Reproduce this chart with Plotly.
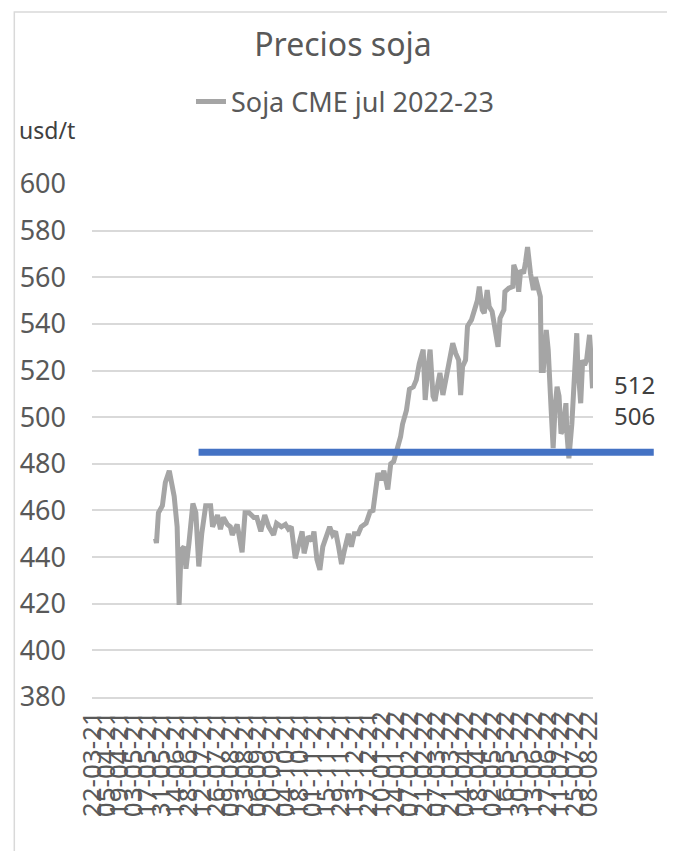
import plotly.graph_objects as go

dates = [
    "2021-05-25", "2021-05-26", "2021-05-28", "2021-06-01", "2021-06-04", "2021-06-08", "2021-06-13",
    "2021-06-16", "2021-06-18", "2021-06-20", "2021-06-23", "2021-06-25", "2021-06-28", "2021-07-02",
    "2021-07-05", "2021-07-08", "2021-07-11", "2021-07-15", "2021-07-20", "2021-07-22", "2021-07-27",
    "2021-07-30", "2021-08-02", "2021-08-06", "2021-08-09", "2021-08-11", "2021-08-16", "2021-08-21",
    "2021-08-24", "2021-08-28", "2021-09-02", "2021-09-05", "2021-09-09", "2021-09-13", "2021-09-17",
    "2021-09-22", "2021-09-25", "2021-09-30", "2021-10-04", "2021-10-07", "2021-10-10", "2021-10-14",
    "2021-10-17", "2021-10-21", "2021-10-23", "2021-10-27", "2021-10-31", "2021-11-02", "2021-11-05",
    "2021-11-08", "2021-11-11", "2021-11-15", "2021-11-18", "2021-11-21", "2021-11-24", "2021-11-27",
    "2021-11-30", "2021-12-03", "2021-12-07", "2021-12-10", "2021-12-13", "2021-12-17", "2021-12-20",
    "2021-12-25", "2021-12-29", "2022-01-01", "2022-01-03", "2022-01-06", "2022-01-09", "2022-01-12",
    "2022-01-16", "2022-01-19", "2022-01-22", "2022-01-26", "2022-01-29", "2022-01-31", "2022-02-04",
    "2022-02-07", "2022-02-11", "2022-02-14", "2022-02-17", "2022-02-21", "2022-02-23", "2022-02-26",
    "2022-02-28", "2022-03-03", "2022-03-05", "2022-03-08", "2022-03-10", "2022-03-13", "2022-03-16",
    "2022-03-20", "2022-03-23", "2022-03-26", "2022-03-29", "2022-03-31", "2022-04-02", "2022-04-05",
    "2022-04-07", "2022-04-11", "2022-04-14", "2022-04-17", "2022-04-19", "2022-04-22", "2022-04-24",
    "2022-04-27", "2022-04-29", "2022-05-02", "2022-05-04", "2022-05-08", "2022-05-10", "2022-05-14",
    "2022-05-15", "2022-05-19", "2022-05-23", "2022-05-24", "2022-05-27", "2022-05-29", "2022-05-31",
    "2022-06-03", "2022-06-05", "2022-06-07", "2022-06-10", "2022-06-13", "2022-06-15", "2022-06-19",
    "2022-06-20", "2022-06-21", "2022-06-23", "2022-06-26", "2022-06-28", "2022-07-01", "2022-07-03",
    "2022-07-05", "2022-07-07", "2022-07-09", "2022-07-11", "2022-07-13", "2022-07-16", "2022-07-17",
    "2022-07-19", "2022-07-22", "2022-07-24", "2022-07-27", "2022-07-28", "2022-07-31", "2022-08-02",
    "2022-08-04", "2022-08-06", "2022-08-09", "2022-08-10", "2022-08-12",
]

soja_jul_2022_23 = [
    448, 446, 459, 462, 472, 477, 466,
    453, 419.5, 443, 444.5, 435, 446, 463,
    459, 436, 450, 462, 462, 453, 458,
    452, 457, 454, 453, 449.5, 454, 442,
    459, 459, 457, 457, 451, 458, 453,
    449.5, 454.5, 453, 454, 452, 453, 439.5,
    444.5, 451, 441.6, 448.8, 447, 451, 439,
    434.5, 444.5, 450, 453, 449.5, 451, 444.5,
    437, 443, 450, 444.5, 450, 450, 453,
    454.5, 459.5, 460, 466, 476, 473, 477,
    469, 480, 481, 487, 491.6, 497, 503,
    512, 513, 516, 523, 529, 507.4, 521.7,
    529, 509, 507, 514.6, 519, 509.5, 516,
    527.4, 531.7, 527.4, 524.5, 509.5, 521.7, 524.5,
    539, 541.7, 546.7, 550, 556, 546, 544.6,
    554.5, 547.4, 545.3, 540.3, 530.2, 542.4, 546,
    553.8, 555.3, 556, 565.3, 561.7, 553.8, 563,
    561.7, 566.7, 573, 561.7, 554.5, 560, 554.5,
    551.7, 520, 520, 537.4, 528.8, 503, 486.7,
    504.5, 513, 509, 493, 494.5, 506, 493,
    482.4, 497, 514.5, 536, 523, 506, 524.5,
    522.4, 524.5, 535.3, 529, 512.4,
]

series_name = "Soja CME jul 2022-23"
reference_level = 485
side_labels = ["512", "506"]
y_ticks = [380, 400, 420, 440, 460, 480, 500, 520, 540, 560, 580, 600]

FONT = "Noto Sans"
GRAY_TXT = "#595959"
DARK_TXT = "#404040"

# page body margin offset of the browser (8px)
OFF = 8
W, H = 675 - OFF, 851 - OFF
# plot area in reference-page pixels: x 90..593, y 184..697
PX0, PX1, PY0, PY1 = 90, 593, 184, 697
L, R, T, B = PX0 - OFF, W - (PX1 - OFF), PY0 - OFF, H - (PY1 - OFF)
pw = PX1 - PX0
ph = PY1 - PY0


def px_x(x):
    return (x - PX0) / pw


def px_y(y):
    return (PY1 - y) / ph


fig = go.Figure()
fig.add_trace(go.Scatter(
    x=dates, y=soja_jul_2022_23, mode="lines", name=series_name,
    line=dict(color="#A5A5A5", width=5),
))

fig.update_layout(
    width=W, height=H,
    margin=dict(l=L, r=R, t=T, b=B),
    paper_bgcolor="white", plot_bgcolor="white",
    font=dict(family=FONT, color=GRAY_TXT),
    title=dict(text="Precios soja", x=px_x(342), xref="paper", xanchor="center",
               y=1 - (45 - OFF) / H, yanchor="middle", yref="container",
               font=dict(family=FONT, size=32, color=GRAY_TXT)),
    showlegend=True,
    legend=dict(orientation="h", x=px_x(344), xanchor="center", y=px_y(102), yanchor="middle",
                font=dict(family=FONT, size=27, color=GRAY_TXT),
                bgcolor="rgba(0,0,0,0)"),
    xaxis=dict(type="date", range=["2021-03-21 12:00", "2022-08-12 12:00"],
               tick0="2021-03-22", dtick=14 * 86400000, tickformat="%d-%m-%y",
               tickangle=-90, showgrid=False, showline=True, linecolor="#D9D9D9",
               linewidth=1.5, ticks="", ticklabelstandoff=2,
               tickfont=dict(family=FONT, size=26, color=GRAY_TXT)),
    yaxis=dict(range=[380, 600], tickvals=y_ticks, showgrid=True, gridcolor="#D9D9D9",
               gridwidth=1.5, zeroline=False, showline=False, ticks="",
               ticklabelstandoff=25,
               tickfont=dict(family=FONT, size=27, color=GRAY_TXT)),
)

fig.add_shape(type="line", xref="paper", yref="y", x0=px_x(197), x1=px_x(654),
              y0=reference_level, y1=reference_level,
              line=dict(color="#4472C4", width=7))

fig.add_shape(type="rect", xref="paper", yref="paper", x0=px_x(12), x1=px_x(669),
              y0=px_y(860), y1=px_y(12), line=dict(color="#D9D9D9", width=1.5),
              layer="below")

fig.add_annotation(text="usd/t", xref="paper", yref="paper", x=px_x(15), y=px_y(130),
                   xanchor="left", yanchor="middle", showarrow=False,
                   font=dict(family=FONT, size=23, color=DARK_TXT))
fig.add_annotation(text="<br>".join(side_labels), xref="paper", yref="paper",
                   x=px_x(612), y=px_y(400), xanchor="left", yanchor="middle",
                   align="left", showarrow=False,
                   font=dict(family=FONT, size=24, color=DARK_TXT))

fig.write_html("out.html")
